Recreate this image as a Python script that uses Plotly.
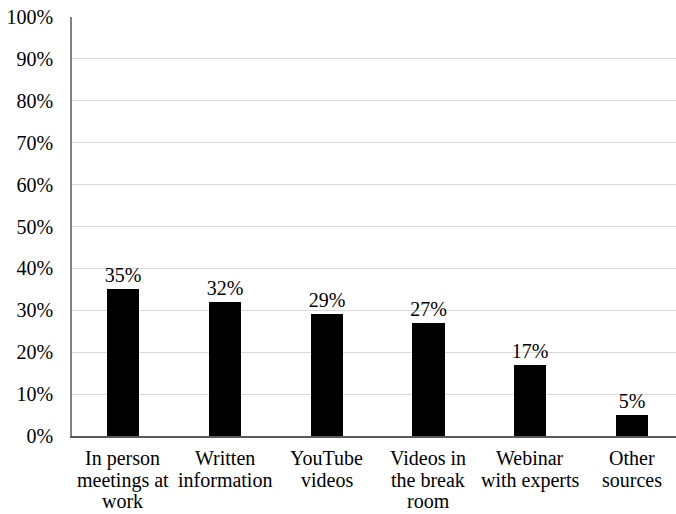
import plotly.graph_objects as go

categories = [
    "In person meetings at work",
    "Written information",
    "YouTube videos",
    "Videos in the break room",
    "Webinar with experts",
    "Other sources",
]
# how each category name is broken over lines under the axis
category_lines = [
    ["In person", "meetings at", "work"],
    ["Written", "information"],
    ["YouTube", "videos"],
    ["Videos in", "the break", "room"],
    ["Webinar", "with experts"],
    ["Other", "sources"],
]
shares = [35, 32, 29, 27, 17, 5]
y_ticks = list(range(0, 101, 10))
y_tick_labels = [f"{v}%" for v in y_ticks]

serif = "Liberation Serif, Times New Roman, serif"
font_size = 20
line_step = 21.5

fig = go.Figure(
    go.Bar(
        x=categories,
        y=shares,
        width=0.315,
        marker=dict(color="#000000", line=dict(color="#000000", width=0)),
        text=[f"{v}%" for v in shares],
        textposition="outside",
        constraintext="none",
        textfont=dict(family=serif, size=font_size, color="#000000"),
        cliponaxis=False,
    )
)

# multi-line category labels with tighter line spacing than tick text allows
annotations = []
for cat, lines in zip(categories, category_lines):
    for k, line in enumerate(lines):
        annotations.append(
            dict(
                x=cat,
                xref="x",
                y=0,
                yref="paper",
                yanchor="top",
                xanchor="center",
                yshift=-(9 + line_step * k),
                text=line,
                showarrow=False,
                font=dict(family=serif, size=font_size, color="#000000"),
            )
        )

fig.update_layout(
    width=676,
    height=514,
    margin=dict(l=72, r=0, t=17, b=78),
    paper_bgcolor="white",
    plot_bgcolor="white",
    showlegend=False,
    font=dict(family=serif, size=font_size, color="#000000"),
    bargap=0,
    annotations=annotations,
)

fig.update_xaxes(
    type="category",
    range=[-0.5, 5.43],
    showline=True,
    linecolor="#595959",
    linewidth=1.5,
    showgrid=False,
    zeroline=False,
    ticks="",
    showticklabels=False,
    automargin=False,
)

fig.update_yaxes(
    range=[0, 100],
    tickmode="array",
    tickvals=y_ticks,
    ticktext=y_tick_labels,
    showline=True,
    linecolor="#808080",
    linewidth=1.5,
    showgrid=True,
    gridcolor="#d9d9d9",
    gridwidth=1,
    zeroline=False,
    ticks="",
    tickfont=dict(family=serif, size=font_size, color="#000000"),
    ticklabelstandoff=13,
    automargin=False,
)

fig.write_html("out.html")
